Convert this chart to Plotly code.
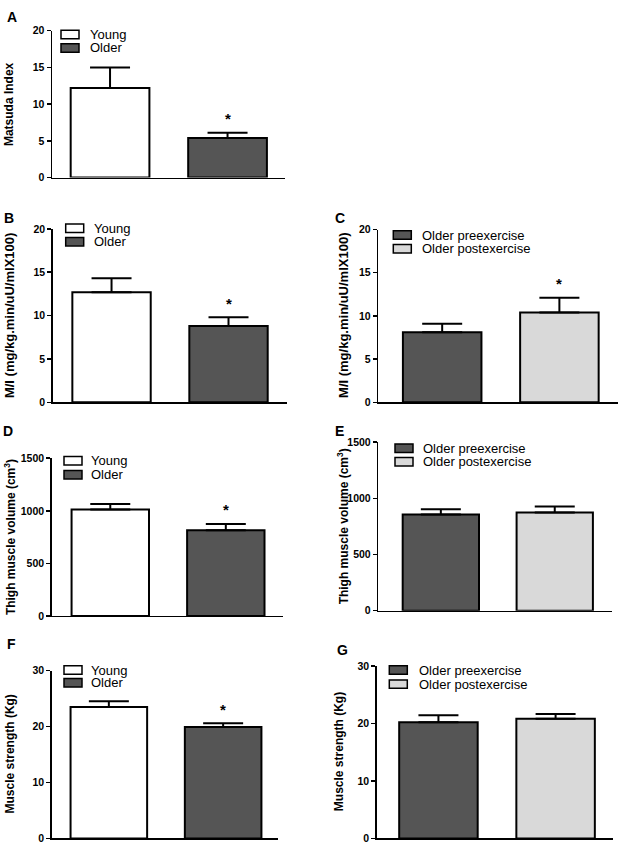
import plotly.graph_objects as go

W, H = 619, 853

# ---------------- data ----------------
groups_age = ["Young", "Older"]
groups_ex = ["Older preexercise", "Older postexercise"]

a_mean = [12.2, 5.4]
a_err = [2.8, 0.7]
b_mean = [12.7, 8.8]
b_err = [1.6, 1.0]
c_mean = [8.1, 10.4]
c_err = [1.0, 1.7]
d_mean = [1012, 816]
d_err = [54, 59]
e_mean = [856, 874]
e_err = [47, 52]
f_mean = [23.5, 19.9]
f_err = [1.0, 0.7]
g_mean = [20.2, 20.8]
g_err = [1.2, 0.85]

a_sig = [False, True]
b_sig = [False, True]
c_sig = [False, True]
d_sig = [False, True]
e_sig = [False, False]
f_sig = [False, True]
g_sig = [False, False]

title_mi = "M/I (mg/kg.min/uU/mlX100)"
title_vol = "Thigh muscle volume (cm<sup>3</sup>)"
title_str = "Muscle strength (Kg)"
title_mat = "Matsuda Index"

WHITE, DARK, LIGHT = "#ffffff", "#555555", "#d9d9d9"
age_colors = [WHITE, DARK]
ex_colors = [DARK, LIGHT]

def px(x):
    return x / W

def py(y):
    return 1 - y / H

panels = [
    dict(lab="A", m=a_mean, e=a_err, s=a_sig, n=groups_age, c=age_colors, t=title_mat, yr=[0, 20], dt=5,
         xd=(52, 285), yd=(25, 174), xr=(-0.494, 1.489), lp=(12, 11), tx=9, ts=12, lg=(61, 29, 42.5, 88)),
    dict(lab="B", m=b_mean, e=b_err, s=b_sig, n=groups_age, c=age_colors, t=title_mi, yr=[0, 20], dt=5,
         xd=(52.7, 287), yd=(226, 402), xr=(-0.503, 1.5), lp=(9, 215), tx=9.5, ts=13, lg=(65.7, 225.5, 239, 92.3)),
    dict(lab="C", m=c_mean, e=c_err, s=c_sig, n=groups_ex, c=ex_colors, t=title_mi, yr=[0, 20], dt=5,
         xd=(378.3, 618), yd=(226.7, 402), xr=(-0.545, 1.5), lp=(340, 215), tx=344, ts=13, lg=(393.3, 232.3, 246.2, 420)),
    dict(lab="D", m=d_mean, e=d_err, s=d_sig, n=groups_age, c=age_colors, t=title_vol, yr=[0, 1500], dt=500,
         xd=(51.7, 283), yd=(458.7, 618.7), xr=(-0.507, 1.495), lp=(8, 431), tx=10, ts=12, lg=(64, 461.2, 475.5, 89.3)),
    dict(lab="E", m=e_mean, e=e_err, s=e_sig, n=groups_ex, c=ex_colors, t=title_vol, yr=[0, 1500], dt=500,
         xd=(378.3, 611.7), yd=(442.3, 613.3), xr=(-0.549, 1.5), lp=(340, 431), tx=343, ts=12, lg=(395, 448.5, 462.2, 420.7)),
    dict(lab="F", m=f_mean, e=f_err, s=f_sig, n=groups_age, c=age_colors, t=title_str, yr=[0, 30], dt=10,
         xd=(51.7, 278), yd=(674, 844.3), xr=(-0.5, 1.48), lp=(11, 647), tx=10, ts=12, lg=(64, 673.5, 686.5, 89.3)),
    dict(lab="G", m=g_mean, e=g_err, s=g_sig, n=groups_ex, c=ex_colors, t=title_str, yr=[0, 30], dt=10,
         xd=(376.7, 613), yd=(669.3, 844.3), xr=(-0.527, 1.49), lp=(342, 653), tx=339, ts=12, lg=(389.3, 673.5, 687.8, 416.7)),
]

FONT = "Liberation Sans, Arial, sans-serif"

fig = go.Figure()
layout = dict(
    width=W, height=H, margin=dict(l=0, r=0, t=0, b=0),
    paper_bgcolor="white", plot_bgcolor="white", showlegend=False,
    font=dict(family=FONT, color="black"),
)
annotations = []
shapes = []

for i, p in enumerate(panels):
    k = "" if i == 0 else str(i + 1)
    xa, ya = "x" + k, "y" + k
    fig.add_trace(go.Bar(
        x=[0, 1], y=p["m"], xaxis=xa, yaxis=ya, width=0.67,
        marker=dict(color=p["c"], line=dict(color="black", width=2)),
        error_y=dict(type="data", symmetric=False, array=p["e"], arrayminus=[0, 0],
                     color="black", thickness=2, width=20),
        hoverinfo="skip",
    ))
    layout["xaxis" + k] = dict(
        domain=[px(p["xd"][0]), px(p["xd"][1])], range=list(p["xr"]), anchor=ya,
        showline=True, linecolor="black", linewidth=1.5, ticks="", showticklabels=False,
        showgrid=False, zeroline=False, fixedrange=True,
    )
    layout["yaxis" + k] = dict(
        domain=[py(p["yd"][1]), py(p["yd"][0])], range=p["yr"], dtick=p["dt"], anchor=xa,
        showline=True, linecolor="black", linewidth=1.5, ticks="outside", ticklen=4,
        tickwidth=1.5, tickcolor="black", showgrid=False, zeroline=False,
        tickfont=dict(family=FONT, size=10.5, weight="bold", color="black"), fixedrange=True,
    )
    annotations.append(dict(
        text="<b>%s</b>" % p["lab"], xref="paper", yref="paper", x=px(p["lp"][0]), y=py(p["lp"][1]),
        xanchor="center", yanchor="middle", showarrow=False, font=dict(size=14, family=FONT),
    ))
    annotations.append(dict(
        text="<b>%s</b>" % p["t"], xref="paper", yref=ya + " domain", x=px(p["tx"]), y=0.5,
        xanchor="center", yanchor="middle", textangle=-90, showarrow=False,
        font=dict(size=p["ts"], family=FONT),
    ))
    for j in range(2):
        if p["s"][j]:
            annotations.append(dict(
                text="<b>*</b>", xref=xa, yref=ya, x=j, y=p["m"][j] + p["e"][j],
                xanchor="center", yanchor="middle", yshift=14, showarrow=False,
                font=dict(size=15, family=FONT),
            ))
    swx, y1, y2, tx = p["lg"]
    for j, yy in enumerate([y1, y2]):
        shapes.append(dict(
            type="rect", xref="paper", yref="paper",
            x0=px(swx), x1=px(swx + 18), y0=py(yy + 4.3), y1=py(yy - 4.3),
            fillcolor=p["c"][j], line=dict(color="black", width=1.5),
        ))
        annotations.append(dict(
            text=p["n"][j], xref="paper", yref="paper", x=px(tx), y=py(yy),
            xanchor="left", yanchor="middle", showarrow=False,
            font=dict(size=13, family=FONT),
        ))

layout["annotations"] = annotations
layout["shapes"] = shapes
fig.update_layout(**layout)
fig.write_html(
    "out.html",
    config={"displayModeBar": False, "staticPlot": True},
    post_script="document.body.style.margin='0';document.body.style.overflow='hidden';",
)
